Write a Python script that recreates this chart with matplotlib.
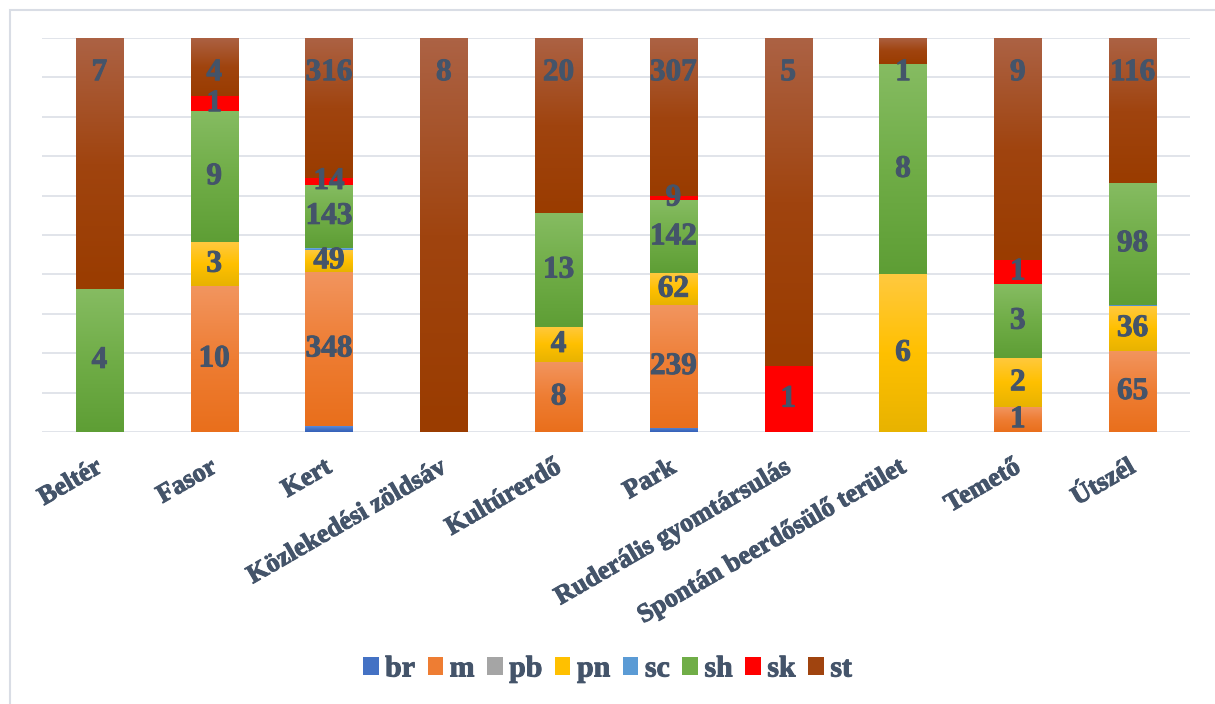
import numpy as np
import matplotlib
matplotlib.use('Agg')
import matplotlib.pyplot as plt
import matplotlib.patheffects as pe
import matplotlib.transforms as mtransforms
from matplotlib.colors import LinearSegmentedColormap
from matplotlib.patches import Rectangle

# habitat categories
categories = ['Beltér', 'Fasor', 'Kert', 'Közlekedési zöldsáv', 'Kultúrerdő', 'Park',
              'Ruderális gyomtársulás', 'Spontán beerdősülő terület', 'Temető', 'Útszél']

# counts per series, same order as categories
br = [0, 0, 13, 0, 0, 8, 0, 0, 0, 0]
m = [0, 10, 348, 0, 8, 239, 0, 0, 1, 65]
pb = [0, 0, 0, 0, 0, 0, 0, 0, 0, 0]
pn = [0, 3, 49, 0, 4, 62, 0, 6, 2, 36]
sc = [0, 0, 4, 0, 0, 0, 0, 0, 0, 1]
sh = [4, 9, 143, 0, 13, 142, 0, 8, 3, 98]
sk = [0, 1, 14, 0, 0, 9, 1, 0, 1, 0]
st = [7, 4, 316, 8, 20, 307, 5, 1, 9, 116]

series = [('br', br), ('m', m), ('pb', pb), ('pn', pn),
          ('sc', sc), ('sh', sh), ('sk', sk), ('st', st)]
labelled = {'m', 'pn', 'sh', 'sk', 'st'}

# gradient stops (top, middle, bottom) for each series
colors = {
    'br': ('#5B8BDB', '#4472C4', '#3560B8'),
    'm':  ('#F2955F', '#EE7D33', '#E96F1C'),
    'pb': ('#B8B8B8', '#A5A5A5', '#959595'),
    'pn': ('#FFC93F', '#FFC000', '#E8B300'),
    'sc': ('#78AEDF', '#5B9BD5', '#4A89C8'),
    'sh': ('#86BC62', '#70AD47', '#5E9E35'),
    'sk': ('#FF0000', '#FF0000', '#FF0000'),
    'st': ('#AC6244', '#A0440F', '#9A3C00'),
}

text_color = '#44546A'
font = 'Liberation Serif'
bold = [pe.withStroke(linewidth=0.7, foreground=text_color)]

fig = plt.figure(figsize=(12.15, 7.04), dpi=100)
ax = fig.add_axes([42 / 1215, 1 - 432 / 704, (1190 - 42) / 1215, (432 - 38) / 704])

data = np.array([v for _, v in series], dtype=float)
share = data / data.sum(axis=0)
x = np.arange(len(categories))
width = 0.41
grad = np.linspace(0, 1, 128).reshape(-1, 1)

bottom = np.zeros(len(categories))
handles = []
for (name, vals), frac in zip(series, share):
    top, mid, bot = colors[name]
    cmap = LinearSegmentedColormap.from_list(name, [bot, mid, top])
    bars = ax.bar(x, frac, width, bottom=bottom, color=mid, zorder=2)
    for rect, v, f, b in zip(bars, vals, frac, bottom):
        if f <= 0:
            continue
        x0 = rect.get_x()
        ax.imshow(grad, cmap=cmap, origin='lower', aspect='auto', zorder=3,
                  extent=[x0, x0 + width, b, b + f], interpolation='bilinear')
        if name in labelled:
            # top series is labelled at the inside end, the rest in the middle
            y = b + f - 0.088 if name == 'st' else b + f / 2
            ax.text(x0 + width / 2, y, str(v), ha='center', va='center',
                    fontsize=22.5, fontweight='bold', family=font, color=text_color,
                    zorder=5, path_effects=bold)
    handles.append(Rectangle((0, 0), 1, 1, facecolor=mid, label=name))
    bottom = bottom + frac

ax.set_xlim(-0.5, len(categories) - 0.5)
ax.set_ylim(0, 1)
ax.set_yticks(np.linspace(0, 1, 11))
ax.set_yticklabels([])
ax.yaxis.grid(True, color='#E1E4EA', lw=1.4, zorder=0)
ax.set_axisbelow(True)
ax.tick_params(length=0)
for s in ax.spines.values():
    s.set_visible(False)

ax.set_xticks(x)
ax.set_xticklabels(categories, rotation=30, ha='right', rotation_mode='anchor',
                   fontsize=19, fontweight='bold', family=font, color=text_color)
ax.tick_params(axis='x', pad=17)
shift = mtransforms.ScaledTranslation(-5 / 100, 0, fig.dpi_scale_trans)
for t in ax.get_xticklabels():
    t.set_path_effects(bold)
    t.set_transform(t.get_transform() + shift)

leg = fig.legend(handles=handles, loc='center', bbox_to_anchor=(0.5, 1 - 669 / 704), ncol=8,
                 frameon=False, handlelength=0.52, handleheight=0.52, handletextpad=0.22,
                 columnspacing=0.42,
                 prop={'family': font, 'weight': 'bold', 'size': 21.5})
for t in leg.get_texts():
    t.set_color(text_color)
    t.set_path_effects(bold)

# chart area frame
fig.patches.append(Rectangle((10 / 1215, -0.2), 1.2, 1.2 - 10 / 704, transform=fig.transFigure,
                             fill=False, edgecolor='#D9DDE5', lw=1.5))

fig.savefig('out.png', dpi=100)
